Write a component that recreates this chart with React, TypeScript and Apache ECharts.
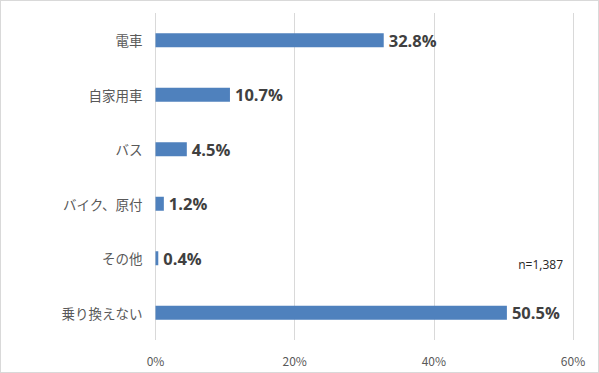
import React, { useEffect, useRef } from "react";
import * as echarts from "echarts";

const categories = ["電車", "自家用車", "バス", "バイク、原付", "その他", "乗り換えない"];
const values = [32.8, 10.7, 4.5, 1.2, 0.4, 50.5];
const xTicks = [0, 20, 40, 60];
const noteText = "n=1,387";

export default function App() {
  const ref = useRef<HTMLDivElement>(null);
  useEffect(() => {
    if (!ref.current) return;
    const chart = echarts.init(ref.current, null, { renderer: "svg" });
    chart.setOption({
      animation: false,
      grid: { left: 154.5, right: 25, top: 12, bottom: 32, containLabel: false },
      xAxis: {
        type: "value",
        min: xTicks[0],
        max: xTicks[xTicks.length - 1],
        interval: 20,
        axisLine: { show: false },
        axisTick: { show: false },
        axisLabel: {
          formatter: "{value}%",
          color: "#595959",
          fontSize: 12,
          fontFamily: "'Noto Sans CJK JP', sans-serif",
          margin: 14,
        },
        splitLine: { show: true, lineStyle: { color: "#d9d9d9", width: 1 } },
      },
      yAxis: {
        type: "category",
        data: categories,
        inverse: true,
        axisLine: { show: false },
        axisTick: { show: false },
        axisLabel: {
          color: "#595959",
          fontSize: 13.5,
          fontFamily: "'Noto Sans CJK JP', sans-serif",
          margin: 13,
        },
      },
      series: [
        {
          type: "bar",
          data: values,
          barWidth: 14,
          itemStyle: { color: "#4f81bd" },
          label: {
            show: true,
            position: "right",
            distance: 5,
            formatter: (p: any) => p.value.toFixed(1) + "%",
            color: "#404040",
            fontWeight: "bold",
            fontSize: 16.5,
            fontFamily: "'Open Sans', 'Noto Sans', sans-serif",
          },
        },
      ],
      graphic: [
        {
          type: "text",
          right: 35,
          top: 257,
          style: {
            text: noteText,
            fill: "#262626",
            fontSize: 12,
            fontFamily: "'Open Sans', sans-serif",
          },
        },
      ],
    });
    return () => chart.dispose();
  }, []);
  return (
    <div
      style={{
        position: "fixed",
        left: 0,
        top: 0,
        width: 599,
        height: 373,
        boxSizing: "border-box",
        border: "1px solid #d9d9d9",
        background: "#fff",
      }}
    >
      <div ref={ref} style={{ width: 597, height: 371 }} />
    </div>
  );
}
